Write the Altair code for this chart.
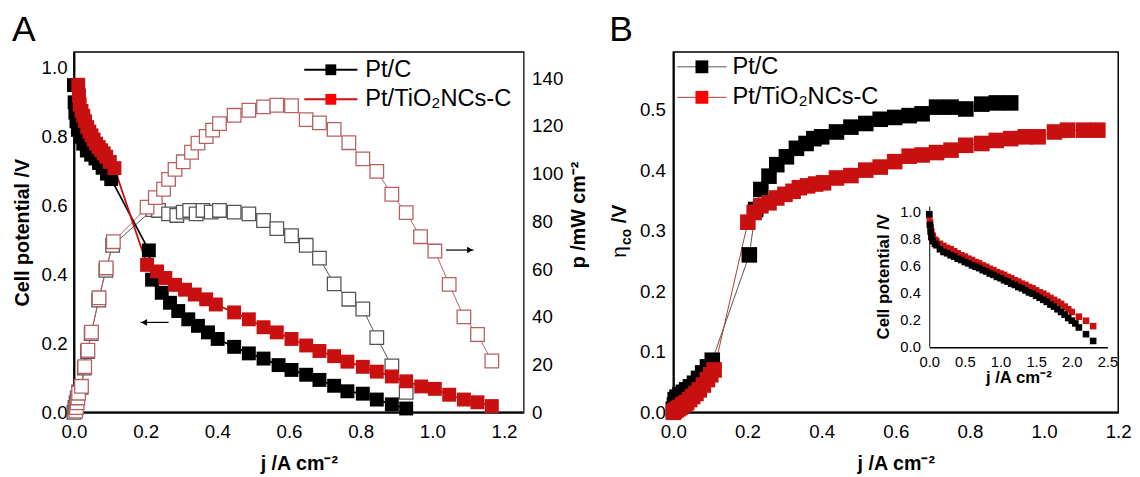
import altair as alt
import pandas as pd

FONT = "Liberation Sans"
series = ["Pt/C", "Pt/TiO₂NCs-C"]
pt_colors = ["#000000", "#ff0000"]
pol_line_colors = ["#000000", "#c81010"]
pow_colors = ["#1a1a1a", "#b54848"]
pow_line_colors = ["#555555", "#b86060"]
b_line_colors = ["#555555", "#a83a3a"]

x_ticks_a = [0.0, 0.2, 0.4, 0.6, 0.8, 1.0, 1.2]
v_ticks_a = [0.0, 0.2, 0.4, 0.6, 0.8, 1.0]
p_ticks_a = [0, 20, 40, 60, 80, 100, 120, 140]
x_ticks_b = [0.0, 0.2, 0.4, 0.6, 0.8, 1.0, 1.2]
eta_ticks_b = [0.0, 0.1, 0.2, 0.3, 0.4, 0.5]
x_ticks_in = [0.0, 0.5, 1.0, 1.5, 2.0, 2.5]
v_ticks_in = [0.0, 0.2, 0.4, 0.6, 0.8, 1.0]

# ---- Panel A: polarization (cell potential, V) ----
a_pc_j = [0.000, 0.002, 0.004, 0.007, 0.011, 0.018, 0.026, 0.036, 0.048, 0.060, 0.070, 0.080, 0.092, 0.104,
          0.209, 0.218, 0.245, 0.268, 0.291, 0.319, 0.346, 0.374, 0.401, 0.447, 0.488, 0.529, 0.571, 0.607,
          0.648, 0.685, 0.726, 0.763, 0.806, 0.845, 0.887, 0.927]
a_pc_v = [0.950, 0.900, 0.870, 0.845, 0.820, 0.800, 0.780, 0.760, 0.748, 0.737, 0.724, 0.710, 0.693, 0.677,
          0.470, 0.385, 0.347, 0.318, 0.294, 0.270, 0.251, 0.232, 0.213, 0.190, 0.171, 0.156, 0.137, 0.123,
          0.109, 0.094, 0.077, 0.061, 0.054, 0.037, 0.023, 0.011]
a_tio_j = [0.012, 0.014, 0.016, 0.021, 0.026, 0.031, 0.037, 0.043, 0.049, 0.055, 0.062, 0.069, 0.076, 0.083,
           0.090, 0.100, 0.113, 0.204, 0.232, 0.255, 0.282, 0.310, 0.337, 0.369, 0.396, 0.447, 0.488, 0.529,
           0.566, 0.607, 0.648, 0.685, 0.726, 0.763, 0.806, 0.845, 0.887, 0.927, 0.969, 1.007, 1.047, 1.088,
           1.126, 1.166]
a_tio_v = [0.951, 0.920, 0.894, 0.875, 0.861, 0.845, 0.828, 0.815, 0.804, 0.792, 0.780, 0.770, 0.761, 0.752,
           0.742, 0.727, 0.709, 0.428, 0.409, 0.390, 0.370, 0.356, 0.342, 0.328, 0.313, 0.290, 0.270, 0.247,
           0.232, 0.213, 0.194, 0.178, 0.163, 0.147, 0.132, 0.118, 0.104, 0.090, 0.075, 0.068, 0.051, 0.037,
           0.029, 0.018]

# ---- Panel A: power density (mW cm-2) ----
a_pc_pj = [0.000, 0.003, 0.006, 0.009, 0.013, 0.020, 0.029, 0.038, 0.048, 0.069, 0.089, 0.108, 0.220, 0.236,
           0.264, 0.287, 0.305, 0.323, 0.341, 0.360, 0.383, 0.406, 0.447, 0.488, 0.529, 0.566, 0.607, 0.648,
           0.685, 0.726, 0.767, 0.806, 0.845, 0.887, 0.927]
a_pc_p = [0.0, 2.0, 4.0, 6.0, 8.5, 10.5, 18.5, 25.5, 33.0, 47.0, 59.5, 70.0, 85.0, 84.6,
          83.2, 82.5, 83.9, 84.6, 83.2, 84.6, 83.9, 84.6, 83.9, 83.2, 80.4, 77.0, 74.0, 70.0,
          64.6, 53.8, 47.4, 43.3, 31.3, 19.4, 8.4]
a_tio_pj = [0.005, 0.007, 0.009, 0.011, 0.013, 0.021, 0.030, 0.039, 0.049, 0.070, 0.090, 0.110, 0.204, 0.227,
            0.250, 0.264, 0.282, 0.305, 0.328, 0.346, 0.369, 0.387, 0.406, 0.447, 0.488, 0.529, 0.566, 0.607,
            0.648, 0.685, 0.726, 0.767, 0.806, 0.845, 0.887, 0.927, 0.967, 1.007, 1.047, 1.088, 1.126, 1.166]
a_tio_p = [0.5, 2.0, 4.0, 6.0, 8.0, 10.9, 19.1, 26.0, 33.6, 48.0, 60.5, 71.5, 86.0, 90.0,
           93.5, 97.6, 101.8, 105.0, 109.0, 112.8, 115.6, 118.3, 121.0, 124.5, 126.6, 128.0, 128.7, 128.5,
           122.7, 121.3, 118.6, 113.0, 106.2, 101.0, 91.4, 83.7, 73.6, 67.6, 53.6, 40.0, 32.6, 21.5]

# ---- Panel B: CO overpotential ----
b_pc_j = [0.000, 0.003, 0.005, 0.010, 0.018, 0.027, 0.036, 0.046, 0.057, 0.068, 0.079, 0.092, 0.105,
          0.205, 0.222, 0.236, 0.258, 0.279, 0.305, 0.332, 0.358, 0.379, 0.400, 0.440, 0.479, 0.519, 0.558,
          0.597, 0.636, 0.671, 0.710, 0.749, 0.789, 0.832, 0.871, 0.910]
b_pc_eta = [0.005, 0.012, 0.021, 0.025, 0.029, 0.033, 0.037, 0.042, 0.048, 0.056, 0.065, 0.075, 0.086,
            0.260, 0.335, 0.368, 0.390, 0.409, 0.422, 0.436, 0.444, 0.452, 0.455, 0.463, 0.471, 0.477, 0.484,
            0.487, 0.490, 0.493, 0.504, 0.504, 0.501, 0.509, 0.511, 0.511]
b_tio_j = [0.000, 0.003, 0.008, 0.013, 0.018, 0.025, 0.031, 0.036, 0.044, 0.052, 0.061, 0.070, 0.081, 0.092,
           0.101, 0.110, 0.201, 0.218, 0.236, 0.258, 0.279, 0.301, 0.323, 0.340, 0.362, 0.384, 0.405, 0.440,
           0.479, 0.519, 0.558, 0.597, 0.636, 0.671, 0.710, 0.749, 0.789, 0.832, 0.871, 0.910, 0.949, 0.984,
           1.028, 1.063, 1.106, 1.145]
b_tio_eta = [0.000, 0.002, 0.004, 0.006, 0.008, 0.012, 0.014, 0.016, 0.021, 0.026, 0.031, 0.037, 0.045, 0.054,
             0.062, 0.070, 0.314, 0.330, 0.341, 0.346, 0.354, 0.360, 0.365, 0.371, 0.374, 0.377, 0.379, 0.387,
             0.391, 0.400, 0.405, 0.414, 0.423, 0.425, 0.429, 0.433, 0.441, 0.444, 0.449, 0.452, 0.455, 0.455,
             0.463, 0.466, 0.466, 0.466]

# ---- Panel B inset: full polarization curves ----
in_pc_j = [0.00, 0.01, 0.02, 0.03, 0.05, 0.08, 0.10, 0.15, 0.20, 0.25, 0.30, 0.35, 0.40, 0.45, 0.50, 0.55,
           0.60, 0.65, 0.70, 0.75, 0.80, 0.85, 0.90, 0.95, 1.00, 1.05, 1.10, 1.15, 1.20, 1.25, 1.30, 1.35,
           1.40, 1.45, 1.50, 1.55, 1.60, 1.65, 1.70, 1.75, 1.80, 1.85, 1.90, 1.95, 2.00, 2.05, 2.10, 2.20, 2.30]
in_pc_v = [0.98, 0.90, 0.85, 0.81, 0.78, 0.76, 0.75, 0.72, 0.70, 0.69, 0.675, 0.665, 0.65, 0.64, 0.625, 0.615,
           0.60, 0.59, 0.58, 0.565, 0.555, 0.54, 0.53, 0.515, 0.505, 0.49, 0.48, 0.465, 0.455, 0.44, 0.43, 0.415,
           0.40, 0.39, 0.375, 0.36, 0.345, 0.33, 0.31, 0.295, 0.275, 0.255, 0.235, 0.21, 0.19, 0.17, 0.14, 0.09, 0.04]
in_tio_j = [0.00, 0.01, 0.02, 0.03, 0.05, 0.08, 0.10, 0.15, 0.20, 0.25, 0.30, 0.35, 0.40, 0.45, 0.50, 0.55,
            0.60, 0.65, 0.70, 0.75, 0.80, 0.85, 0.90, 0.95, 1.00, 1.05, 1.10, 1.15, 1.20, 1.25, 1.30, 1.35,
            1.40, 1.45, 1.50, 1.55, 1.60, 1.65, 1.70, 1.75, 1.80, 1.85, 1.90, 1.95, 2.00, 2.10, 2.20, 2.30]
in_tio_v = [0.97, 0.92, 0.88, 0.85, 0.82, 0.79, 0.78, 0.76, 0.745, 0.73, 0.72, 0.705, 0.69, 0.675, 0.665, 0.65,
            0.64, 0.625, 0.615, 0.60, 0.59, 0.575, 0.565, 0.55, 0.54, 0.53, 0.515, 0.505, 0.49, 0.48, 0.465, 0.455,
            0.44, 0.43, 0.415, 0.40, 0.39, 0.375, 0.36, 0.345, 0.33, 0.315, 0.295, 0.275, 0.255, 0.22, 0.19, 0.15]

# arrows (annotation, data coordinates)
arrow_left = {"j": [0.264], "j2": [0.186], "y": [0.261], "head": [0.196]}
arrow_right = {"j": [1.038], "j2": [1.115], "y": [68.0], "head": [1.105]}

W_A, W_B, H = 457, 452, 366


def frame(js, ys, name):
    return pd.DataFrame({"j": js, "y": ys, "s": name, "o": list(range(len(js)))})


polA = pd.concat([frame(a_pc_j, a_pc_v, series[0]), frame(a_tio_j, a_tio_v, series[1])])
powA = pd.concat([frame(a_pc_pj, a_pc_p, series[0]), frame(a_tio_pj, a_tio_p, series[1])])
etaB = pd.concat([frame(b_pc_j, b_pc_eta, series[0]), frame(b_tio_j, b_tio_eta, series[1])])
insB = pd.concat([frame(in_tio_j, in_tio_v, series[1]), frame(in_pc_j, in_pc_v, series[0])])
dummy = pd.DataFrame({"d": [0]})

TITLE_J = "j /A cm⁻²"

color_pts = alt.Color("s:N", scale=alt.Scale(domain=series, range=pt_colors), legend=None)


def xa(field="j"):
    return alt.X(f"{field}:Q", scale=alt.Scale(domain=[0, 1.255], nice=False, zero=False),
                 axis=alt.Axis(values=x_ticks_a, format=".1f", title=TITLE_J, labelPadding=11,
                               titlePadding=12, domainWidth=2))


def ya_left():
    return alt.Y("y:Q", scale=alt.Scale(domain=[0, 1.046], nice=False),
                 axis=alt.Axis(orient="left", values=v_ticks_a, format=".1f", title="Cell potential /V",
                               labelPadding=7, titlePadding=9, domainWidth=2))


def ya_right():
    return alt.Y("y:Q", scale=alt.Scale(domain=[0, 151], nice=False),
                 axis=alt.Axis(orient="right", values=p_ticks_a, format="d", title="p /mW cm⁻²",
                               titleAngle=270, titleBaseline="top", titleY=165,
                               domainColor="#808080", domainWidth=1.5,
                               labelPadding=8, titlePadding=6))


def legend_layers(items, x0, x1, xc, xt, ys, sq_size, line_w, line_cols):
    out = []
    for (label, col, lcol), yy in zip(zip(items, pt_colors, line_cols), ys):
        out.append(alt.Chart(dummy).mark_rule(color=lcol, strokeWidth=line_w).encode(
            x=alt.value(x0), x2=alt.value(x1), y=alt.value(yy)))
        out.append(alt.Chart(dummy).mark_square(color=col, size=sq_size, opacity=1).encode(
            x=alt.value(xc), y=alt.value(yy)))
        out.append(alt.Chart(dummy).mark_text(align="left", baseline="middle", fontSize=24, font=FONT,
                                              color="black").encode(
            x=alt.value(xt), y=alt.value(yy), text=alt.value(label)))
    return out


# ---------- Panel A ----------
pol_line = alt.Chart(polA).mark_line(strokeWidth=1.8).encode(
    x=xa(), y=ya_left(),
    color=alt.Color("s:N", scale=alt.Scale(domain=series, range=pol_line_colors), legend=None),
    order="o:Q")
pol_pts = alt.Chart(polA).mark_point(shape="square", filled=True, size=200, opacity=1).encode(
    x=xa(), y=ya_left(), color=color_pts)
arrL = pd.DataFrame(arrow_left)
arrL_rule = alt.Chart(arrL).mark_rule(color="black", strokeWidth=1.2).encode(x=xa(), x2="j2:Q", y=ya_left())
arrL_head = alt.Chart(arrL).mark_point(shape="triangle-left", filled=True, size=45, color="black",
                                       opacity=1).encode(x=xa("head"), y=ya_left())
labelA = alt.Chart(dummy).mark_text(align="left", baseline="top", fontSize=36, font=FONT,
                                    color="black").encode(x=alt.value(-63), y=alt.value(-39), text=alt.value("A"))
legA = legend_layers(series, 234, 288, 261, 296, [18, 48], 121, 2, pol_line_colors)

pow_line = alt.Chart(powA).mark_line(strokeWidth=1).encode(
    x=xa(), y=ya_right(),
    stroke=alt.Stroke("s:N", scale=alt.Scale(domain=series, range=pow_line_colors), legend=None),
    order="o:Q")
pow_pts = alt.Chart(powA).mark_point(shape="square", filled=False, size=190, strokeWidth=1.3,
                                     opacity=1, fill="white", fillOpacity=1).encode(
    x=xa(), y=ya_right(),
    stroke=alt.Stroke("s:N", scale=alt.Scale(domain=series, range=pow_colors), legend=None))
arrR = pd.DataFrame(arrow_right)
arrR_rule = alt.Chart(arrR).mark_rule(color="black", strokeWidth=1.2).encode(x=xa(), x2="j2:Q", y=ya_right())
arrR_head = alt.Chart(arrR).mark_point(shape="triangle-right", filled=True, size=45, color="black",
                                       opacity=1).encode(x=xa("head"), y=ya_right())

left_group = alt.layer(pol_line, pol_pts, arrL_rule, arrL_head, *legA, labelA)
right_group = alt.layer(pow_line, pow_pts, arrR_rule, arrR_head)
panelA = alt.layer(right_group, left_group).resolve_scale(y="independent", stroke="independent").properties(
    width=W_A, height=H)


# ---------- Panel B ----------
def xb():
    return alt.X("j:Q", scale=alt.Scale(domain=[0, 1.2], nice=False),
                 axis=alt.Axis(values=x_ticks_b, format=".1f", title=TITLE_J, labelPadding=11,
                               titlePadding=12, domainWidth=2))


def yb():
    return alt.Y("y:Q", scale=alt.Scale(domain=[0, 0.595], nice=False),
                 axis=alt.Axis(orient="left", values=eta_ticks_b, format=".1f", title=None,
                               labelPadding=8, domainWidth=2))


def xi():
    return alt.X("j:Q", scale=alt.Scale(domain=[0, 2.5], range=[260, 441], nice=False),
                 axis=alt.Axis(orient="bottom", offset=300 - H, values=x_ticks_in, format=".1f", title=TITLE_J,
                               labelFontSize=15, titleFontSize=17, labelPadding=7, titlePadding=1,
                               domainWidth=1.5))


def yi():
    return alt.Y("y:Q", scale=alt.Scale(domain=[0, 1.04], range=[299, 156.5], nice=False),
                 axis=alt.Axis(orient="left", offset=-260, values=v_ticks_in, format=".1f",
                               title="Cell potential /V", labelFontSize=15, titleFontSize=17,
                               labelPadding=9, titlePadding=8))


b_line = alt.Chart(etaB).mark_line(strokeWidth=1).encode(
    x=xb(), y=yb(),
    stroke=alt.Stroke("s:N", scale=alt.Scale(domain=series, range=b_line_colors), legend=None),
    order="o:Q")
b_pts = alt.Chart(etaB).mark_point(shape="square", filled=True, size=250, opacity=1).encode(
    x=xb(), y=yb(), color=color_pts)
labelB = alt.Chart(dummy).mark_text(align="left", baseline="top", fontSize=36, font=FONT,
                                    color="black").encode(x=alt.value(-65), y=alt.value(-39), text=alt.value("B"))
eta_t = alt.Chart(dummy).mark_text(angle=270, align="left", baseline="alphabetic", fontSize=21, font=FONT,
                                   color="black").encode(x=alt.value(-48), y=alt.value(209), text=alt.value("η"))
co_t = alt.Chart(dummy).mark_text(angle=270, align="left", baseline="alphabetic", fontSize=14, font=FONT,
                                  fontWeight="bold", color="black").encode(
    x=alt.value(-43), y=alt.value(196), text=alt.value("co"))
v_t = alt.Chart(dummy).mark_text(angle=270, align="left", baseline="alphabetic", fontSize=20, font=FONT,
                                 fontWeight="bold", color="black").encode(
    x=alt.value(-48), y=alt.value(174), text=alt.value("/V"))
legB = legend_layers(series, 4, 54, 29, 60, [15, 46], 170, 1, b_line_colors)

main_b = alt.layer(b_line, b_pts, labelB, eta_t, co_t, v_t, *legB)
inset = alt.Chart(insB).mark_point(shape="square", filled=True, size=45, opacity=1).encode(
    x=xi(), y=yi(), color=color_pts)

panelB = alt.layer(main_b, inset).resolve_scale(x="independent", y="independent").properties(
    width=W_B, height=H)

chart = alt.hconcat(panelA, panelB, spacing=19).properties(
    padding={"left": 3, "top": 0, "right": 0, "bottom": 0}
).configure(font=FONT, background="white").configure_axis(
    labelFont=FONT, titleFont=FONT, labelFontSize=19, titleFontSize=20, titleFontWeight="bold",
    labelColor="black", titleColor="black", domainColor="black", ticks=False, tickSize=0, grid=False,
    labelFlush=False).configure_view(stroke="black", strokeWidth=1.5)

chart.save("out.html", embed_options={"renderer": "svg", "actions": False})
